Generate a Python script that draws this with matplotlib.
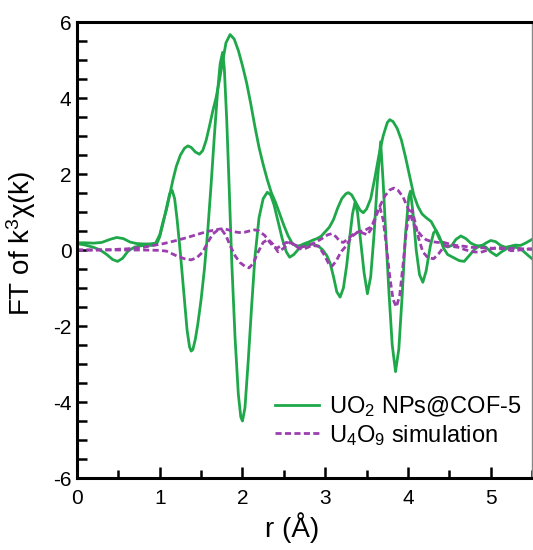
import numpy as np
import matplotlib
matplotlib.use("Agg")
import matplotlib.pyplot as plt
from matplotlib.ticker import MultipleLocator

plt.rcParams['font.family'] = ['Liberation Sans', 'DejaVu Sans']
plt.rcParams['mathtext.fontset'] = 'custom'
plt.rcParams['mathtext.rm'] = 'Liberation Sans'
plt.rcParams['mathtext.it'] = 'Liberation Sans:italic'
plt.rcParams['axes.unicode_minus'] = False

# UO2 NPs@COF-5 : magnitude of FT
r_mag = [0.00, 0.10, 0.20, 0.30, 0.40, 0.48, 0.56, 0.64, 0.72, 0.80, 0.88, 0.95, 1.00, 1.04, 1.08,
         1.12, 1.16, 1.20, 1.25, 1.30, 1.34, 1.38, 1.43, 1.48, 1.52, 1.56, 1.60, 1.64, 1.68, 1.72,
         1.76, 1.80, 1.85, 1.90, 1.95, 2.00, 2.05, 2.10, 2.15, 2.20, 2.25, 2.30, 2.35, 2.40, 2.45,
         2.50, 2.55, 2.60, 2.65, 2.70, 2.75, 2.80, 2.85, 2.90, 2.95, 3.00, 3.05, 3.10, 3.15, 3.20,
         3.25, 3.28, 3.32, 3.37, 3.42, 3.46, 3.50, 3.55, 3.60, 3.65, 3.70, 3.75, 3.78, 3.82, 3.87,
         3.92, 3.97, 4.02, 4.07, 4.12, 4.17, 4.22, 4.28, 4.33, 4.38, 4.43, 4.48, 4.53, 4.58, 4.64,
         4.70, 4.76, 4.82, 4.88, 4.94, 5.00, 5.06, 5.12, 5.18, 5.24, 5.30, 5.36, 5.42, 5.50]
ft_mag = [0.19, 0.19, 0.18, 0.20, 0.28, 0.33, 0.30, 0.21, 0.17, 0.16, 0.16, 0.18, 0.40, 0.75, 1.05,
          1.45, 1.85, 2.20, 2.50, 2.68, 2.74, 2.70, 2.58, 2.52, 2.62, 2.88, 3.25, 3.65, 4.00, 4.45,
          4.95, 5.45, 5.67, 5.55, 5.25, 4.85, 4.40, 3.85, 3.25, 2.70, 2.25, 1.85, 1.50, 1.25, 0.95,
          0.65, 0.38, 0.18, 0.10, 0.12, 0.17, 0.21, 0.26, 0.30, 0.36, 0.48, 0.60, 0.80, 1.10, 1.35,
          1.48, 1.51, 1.45, 1.25, 1.05, 0.98, 1.08, 1.35, 1.90, 2.50, 3.00, 3.35, 3.43, 3.38, 3.20,
          2.90, 2.45, 1.95, 1.45, 1.15, 0.95, 0.85, 0.75, 0.55, 0.30, 0.15, 0.08, 0.12, 0.28, 0.37,
          0.30, 0.18, 0.12, 0.10, 0.18, 0.25, 0.22, 0.12, 0.07, 0.10, 0.13, 0.12, 0.18, 0.28]

# UO2 NPs@COF-5 : imaginary part
r_im = [0.00, 0.10, 0.20, 0.28, 0.36, 0.43, 0.49, 0.55, 0.62, 0.70, 0.80, 0.90, 0.96, 1.00, 1.04,
        1.08, 1.12, 1.15, 1.18, 1.21, 1.25, 1.29, 1.33, 1.36, 1.38, 1.40, 1.43, 1.46, 1.50, 1.54,
        1.58, 1.62, 1.66, 1.70, 1.73, 1.76, 1.78, 1.81, 1.84, 1.87, 1.91, 1.95, 1.98, 2.00, 2.03,
        2.07, 2.11, 2.15, 2.20, 2.25, 2.30, 2.34, 2.38, 2.43, 2.48, 2.53, 2.57, 2.62, 2.68, 2.75,
        2.84, 2.92, 2.97, 3.02, 3.06, 3.10, 3.14, 3.18, 3.22, 3.26, 3.30, 3.33, 3.36, 3.39, 3.43,
        3.47, 3.51, 3.55, 3.59, 3.63, 3.67, 3.70, 3.73, 3.77, 3.81, 3.85, 3.89, 3.93, 3.97, 4.01,
        4.03, 4.06, 4.10, 4.14, 4.18, 4.22, 4.27, 4.31, 4.34, 4.38, 4.43, 4.48, 4.55, 4.62, 4.68,
        4.74, 4.81, 4.88, 4.94, 5.00, 5.07, 5.13, 5.19, 5.25, 5.31, 5.37, 5.43, 5.50]
ft_im = [0.17, 0.13, 0.07, 0.00, -0.12, -0.25, -0.30, -0.22, -0.02, 0.08, 0.12, 0.12, 0.15, 0.35, 0.70,
         1.10, 1.48, 1.57, 1.35, 0.80, -0.10, -1.10, -2.10, -2.55, -2.66, -2.62, -2.35, -1.95, -1.30, -0.50,
         0.50, 1.70, 3.00, 4.20, 4.90, 5.20, 4.80, 3.40, 1.60, -0.30, -2.30, -3.80, -4.40, -4.50, -4.15,
         -2.90, -1.50, -0.20, 0.85, 1.35, 1.52, 1.45, 1.20, 0.75, 0.30, -0.05, -0.19, -0.12, 0.03, 0.12,
         0.16, 0.10, 0.00, -0.15, -0.35, -0.70, -1.10, -1.24, -1.00, -0.40, 0.40, 0.95, 1.25, 1.00, 0.20,
         -0.60, -1.15, -0.70, 0.40, 1.80, 2.85, 1.80, 0.50, -1.10, -2.50, -3.20, -2.60, -1.20, 0.40, 1.40,
         1.55, 1.00, 0.00, -0.65, -0.85, -0.55, 0.10, 0.45, 0.52, 0.35, 0.05, -0.12, -0.20, -0.28, -0.30,
         -0.15, 0.03, 0.12, 0.08, -0.05, -0.15, -0.05, 0.03, 0.07, 0.07, 0.02, -0.10, -0.23]

# U4O9 simulation : magnitude
r_sim_mag = [0.00, 0.20, 0.40, 0.60, 0.80, 0.92, 1.05, 1.20, 1.30, 1.41, 1.50, 1.58, 1.65, 1.72, 1.77,
             1.83, 1.90, 1.96, 2.03, 2.10, 2.15, 2.20, 2.27, 2.33, 2.38, 2.42, 2.47, 2.53, 2.58, 2.65,
             2.72, 2.80, 2.88, 2.96, 3.03, 3.08, 3.13, 3.18, 3.22, 3.28, 3.33, 3.40, 3.48, 3.55, 3.60,
             3.66, 3.72, 3.78, 3.83, 3.88, 3.94, 4.00, 4.05, 4.10, 4.16, 4.22, 4.29, 4.36, 4.43, 4.50,
             4.58, 4.67, 4.77, 4.88, 5.00, 5.10, 5.20, 5.30, 5.40, 5.50]
sim_mag = [0.00, 0.00, 0.01, 0.03, 0.07, 0.12, 0.17, 0.25, 0.31, 0.38, 0.44, 0.49, 0.52, 0.55, 0.56,
           0.53, 0.48, 0.46, 0.47, 0.51, 0.53, 0.50, 0.38, 0.20, 0.08, 0.05, 0.12, 0.20, 0.18, 0.12,
           0.08, 0.12, 0.20, 0.30, 0.40, 0.43, 0.35, 0.22, 0.20, 0.30, 0.40, 0.48, 0.52, 0.60, 0.80,
           1.15, 1.42, 1.58, 1.63, 1.57, 1.40, 1.10, 0.80, 0.55, 0.38, 0.27, 0.22, 0.20, 0.20, 0.16,
           0.12, 0.10, 0.07, 0.06, 0.05, 0.03, 0.05, 0.04, 0.03, 0.03]

# U4O9 simulation : imaginary part
r_sim_im = [0.00, 0.40, 0.80, 1.00, 1.08, 1.15, 1.22, 1.30, 1.38, 1.45, 1.52, 1.58, 1.64, 1.70, 1.75,
            1.80, 1.85, 1.91, 1.97, 2.03, 2.08, 2.13, 2.19, 2.25, 2.31, 2.37, 2.43, 2.50, 2.57, 2.62,
            2.69, 2.77, 2.84, 2.92, 2.98, 3.04, 3.08, 3.13, 3.19, 3.25, 3.32, 3.39, 3.45, 3.51, 3.57,
            3.62, 3.66, 3.70, 3.74, 3.78, 3.82, 3.86, 3.90, 3.94, 3.98, 4.02, 4.05, 4.09, 4.13, 4.18,
            4.24, 4.31, 4.37, 4.44, 4.52, 4.61, 4.70, 4.80, 4.88, 4.97, 5.07, 5.15, 5.25, 5.35, 5.45, 5.50]
sim_im = [0.00, 0.00, 0.00, -0.01, -0.03, -0.10, -0.17, -0.23, -0.26, -0.20, -0.05, 0.20, 0.42, 0.52, 0.53,
          0.38, 0.12, -0.15, -0.33, -0.43, -0.47, -0.35, -0.05, 0.20, 0.28, 0.15, -0.05, 0.05, 0.20, 0.15,
          0.03, 0.05, 0.12, 0.10, -0.10, -0.35, -0.43, -0.30, -0.05, 0.10, 0.35, 0.47, 0.45, 0.40, 0.60,
          1.00, 1.13, 0.80, 0.10, -0.70, -1.30, -1.50, -1.20, -0.40, 0.50, 1.00, 1.05, 0.70, 0.30, -0.05,
          -0.20, -0.23, -0.10, 0.10, 0.10, 0.07, 0.00, -0.05, -0.06, 0.00, 0.07, 0.05, -0.02, 0.00, 0.02, 0.02]

green = '#1fa84a'
purple = '#9b3fae'

fig = plt.figure(figsize=(5.33, 5.5), dpi=100)
ax = fig.add_axes([0.1445, 0.1309, 0.8537, 0.8291])

ax.plot(r_mag, ft_mag, color=green, lw=2.0, label='UO$_2$ NPs@COF-5')
ax.plot(r_im, ft_im, color=green, lw=2.0)
ax.plot(r_sim_mag, sim_mag, color=purple, lw=2.0, ls=(0, (2.2, 1.2)), label='U$_4$O$_9$ simulation')
ax.plot(r_sim_im, sim_im, color=purple, lw=2.0, ls=(0, (2.2, 1.2)))

ax.set_xlim(0, 5.5)
ax.set_ylim(-6, 6)
ax.xaxis.set_major_locator(MultipleLocator(1))
ax.xaxis.set_minor_locator(MultipleLocator(0.5))
ax.yaxis.set_major_locator(MultipleLocator(2))
ax.yaxis.set_minor_locator(MultipleLocator(0.5))
ax.tick_params(which='both', direction='in', top=False, right=False, width=1.8, labelsize=15)
ax.tick_params(axis='x', which='major', length=8, pad=8)
ax.tick_params(axis='x', which='minor', length=6)
ax.tick_params(axis='y', which='both', length=7, pad=4)

for side in ['left', 'bottom', 'top']:
    ax.spines[side].set_linewidth(2.2)
ax.spines['right'].set_linewidth(1.0)
ax.spines['right'].set_color('#888888')

ax.set_xlabel('r (Å)', fontsize=20)
ax.set_ylabel('FT of k$^3$χ(k)', fontsize=20)
ax.xaxis.set_label_coords(0.473, -0.075)
ax.yaxis.set_label_coords(-0.085, 0.515)

ax.legend(loc='center left', bbox_to_anchor=(0.435, 0.125), frameon=False, fontsize=17,
          handlelength=1.85, handletextpad=0.45, borderaxespad=0, borderpad=0, labelspacing=0.15)

fig.savefig('out.png', dpi=100)
